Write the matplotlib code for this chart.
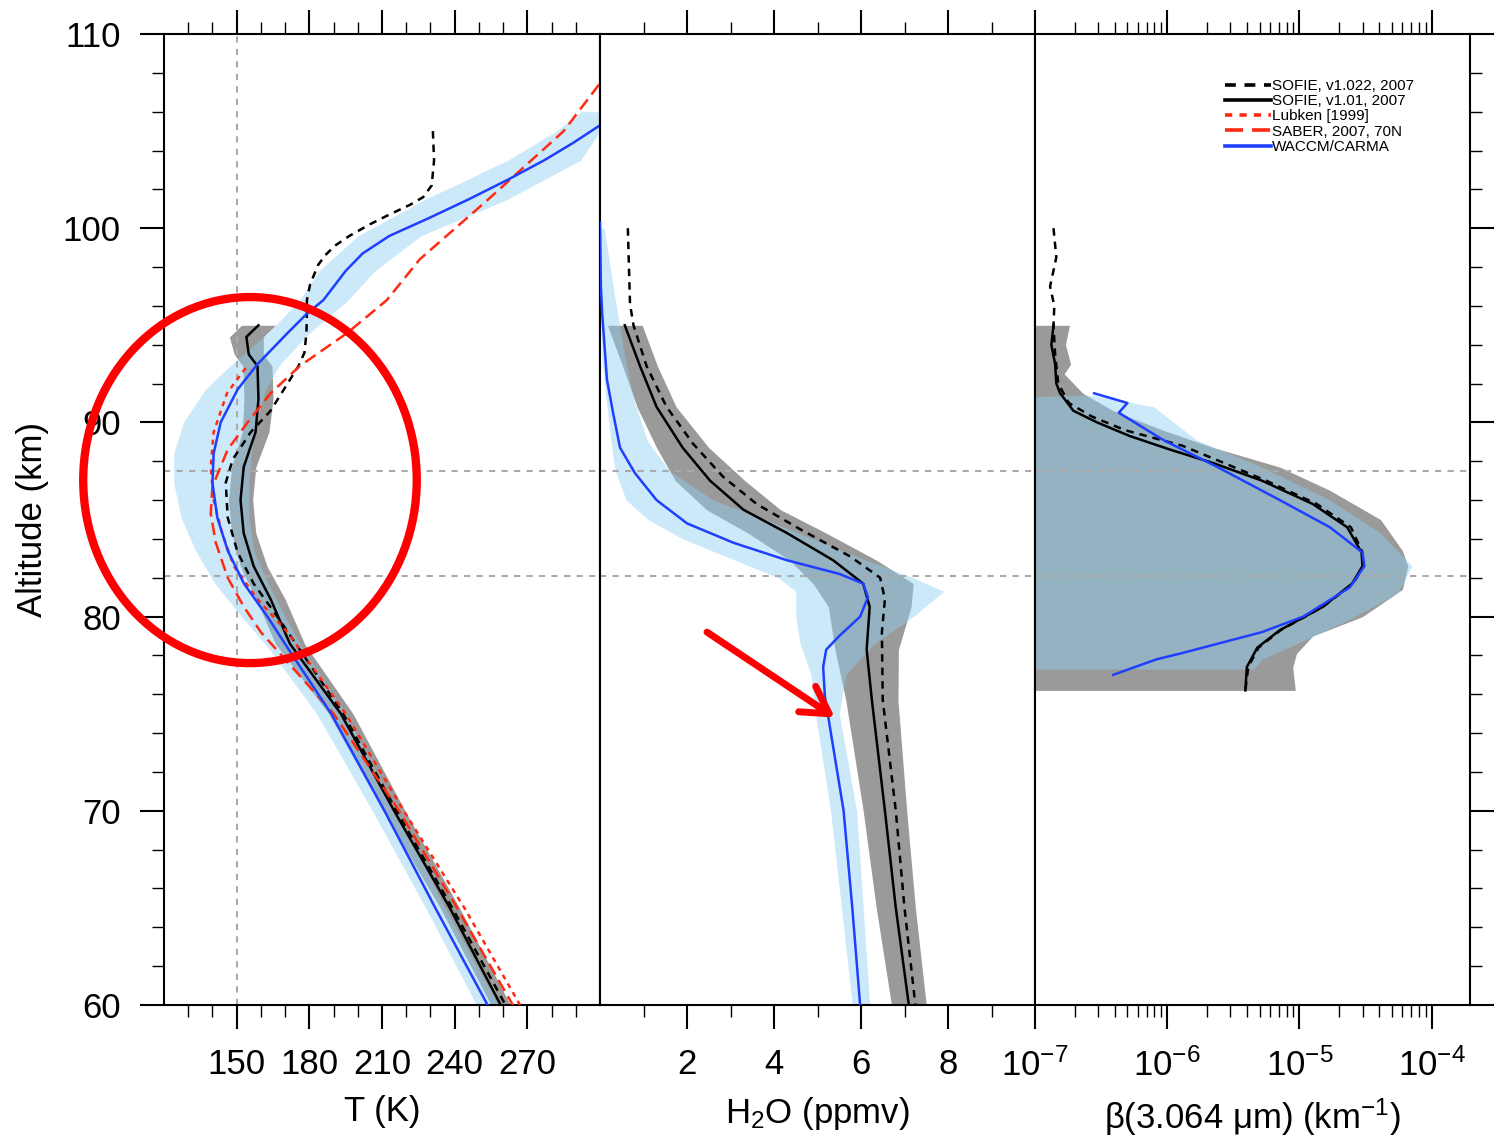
import matplotlib.pyplot as plt
from matplotlib.patches import Ellipse
from matplotlib.ticker import FixedLocator, LogLocator, NullFormatter

plt.rcParams['font.family'] = ['Liberation Sans', 'DejaVu Sans']
plt.rcParams['mathtext.fontset'] = 'custom'
plt.rcParams['mathtext.rm'] = 'Liberation Sans'
plt.rcParams['mathtext.it'] = 'Liberation Sans:italic'

# ---------------- temperature (K) ----------------
t_s101_z = [95, 94.4, 93.5, 92.9, 91.2, 89.5, 87.7, 86, 84.3, 82.6, 80.9, 78.6, 75, 70, 65, 60]
t_s101 = [159, 154, 155, 158.6, 159, 157.8, 152.9, 151.6, 152.9, 157, 164, 172, 193, 215, 238, 259]
t_s101_sd = [7, 7, 6, 6, 6, 5.5, 5, 5, 5, 5.5, 6, 6, 5, 4.5, 4, 4]

t_s1022_z = [105, 103.5, 102.2, 101.6, 101.2, 100.7, 100.2, 99.6, 99.1, 98.6, 98.1, 97.1, 96.3,
             95.6, 94.6, 93.6, 92.9, 92.2, 90.6, 89.5, 88.1, 86.9, 85.1, 83.3, 81.7, 80, 75, 70, 65, 60]
t_s1022 = [231, 231.5, 230.5, 227, 221.5, 213, 205, 196.5, 190.6, 186.5, 183.6, 180.3, 179,
           179, 178.8, 178, 175.5, 172, 164, 155.8, 148.4, 145.5, 146.3, 150.4, 157, 166.8,
           194, 216, 239, 261]

t_waccm_z = [105.3, 104.4, 103.5, 102.5, 101.5, 100.5, 99.6, 98.7, 97.8, 96.3, 95.6, 94.6, 93,
             91.7, 90, 88.4, 86.9, 85.1, 83.4, 81.7, 80, 78.4, 75, 70, 65, 60]
t_waccm = [300, 289, 277, 262, 246, 229, 213, 202, 195, 185.8, 179, 171, 158.6, 150.4,
           143.4, 140.5, 140, 142, 146.3, 153, 162.7, 171, 189, 211, 232, 253.6]

t_wband_z = [106, 105, 103.5, 101.5, 99.6, 97.8, 96.3, 94.6, 93, 91.7, 90, 88.4, 86.9,
             85.1, 83.4, 81.7, 80, 78.4, 75, 70, 65, 60]
t_wband_lo = [292, 282, 262, 228, 200, 184, 176, 163, 148, 137, 128, 124, 124,
              127, 133, 141, 152, 163, 183, 206, 228, 249]
t_wband_hi = [305, 300, 292, 262, 226, 207, 196, 180, 168, 162, 158, 156, 155,
              155, 157, 163, 170, 177, 195, 216, 236, 258]

t_lub_z = [92.8, 91.5, 89.5, 87.7, 86, 84.3, 82.6, 80.9, 79.2, 75, 70, 65, 60]
t_lub = [153.7, 146, 140.5, 139.3, 140.5, 144, 148.8, 158.6, 171, 195, 219, 244, 267]

t_saber_z = [107.4, 105, 101.5, 98.4, 96.3, 94.6, 92.9, 91.5, 90, 88.6, 86.7, 85.3, 83.8,
             82, 80.5, 79.2, 75, 70, 65, 60]
t_saber = [299.6, 285, 254, 225.6, 212, 195.6, 176, 164, 154.5, 146.3, 140, 139.3, 141.4,
           146.3, 153, 160, 190, 217, 241, 264]

# ---------------- water vapour (ppmv) ----------------
h_s101_z = [95, 92.9, 90.8, 88.7, 87, 85.5, 84.3, 82.9, 81.7, 80.5, 78.3, 75.7, 70, 65, 60]
h_s101 = [0.57, 0.92, 1.3, 1.9, 2.53, 3.3, 4.3, 5.36, 6.05, 6.2, 6.13, 6.25, 6.55, 6.8, 7.1]
h_s101_sd = [0.4, 0.4, 0.45, 0.6, 0.8, 0.85, 0.9, 1.0, 1.15, 0.95, 0.73, 0.6, 0.5, 0.45, 0.4]

h_s1022_z = [100, 96.1, 95, 92.9, 90.8, 88.9, 87.2, 85.8, 84.5, 83.1, 82, 80.9, 79.2, 75.7, 70, 65, 60]
h_s1022 = [0.64, 0.69, 0.77, 1.07, 1.53, 2.14, 2.83, 3.6, 4.6, 5.75, 6.44, 6.55, 6.48, 6.5, 6.8, 7.0, 7.25]

h_waccm_z = [100.3, 97, 95.6, 92.2, 90.5, 88.7, 87.4, 86, 84.8, 83.8, 82.9, 82.2, 81.7, 81,
             80, 79, 78.3, 77.4, 75.9, 70, 65, 60]
h_waccm = [0.0, 0.02, 0.05, 0.16, 0.3, 0.46, 0.8, 1.3, 2.0, 3.07, 4.3, 5.5, 6.05, 6.16,
           5.98, 5.5, 5.2, 5.13, 5.17, 5.6, 5.8, 5.98]

h_wband_z = [100, 97, 95, 93, 91, 89, 87.5, 86, 85, 84, 83, 82, 81.3, 80, 78.6, 77, 75, 70, 65, 60]
h_wband_lo = [0.0, 0.0, 0.02, 0.05, 0.15, 0.25, 0.35, 0.6, 1.1, 1.9, 3.0, 4.1, 4.5, 4.5,
              4.6, 4.85, 4.95, 5.3, 5.55, 5.8]
h_wband_hi = [0.1, 0.3, 0.45, 0.6, 0.8, 1.1, 1.6, 2.6, 3.8, 4.9, 6.0, 7.2, 7.9, 7.2,
              6.3, 5.65, 5.5, 5.9, 6.05, 6.2]

# ---------------- backscatter beta (km-1) ----------------
b_s101_z = [95, 94, 93, 92, 91.5, 90.6, 90, 89.3, 88.6, 87.9, 87, 85.8, 84.6, 83.3, 82.6,
            81.7, 80.5, 79.3, 78.4, 77.4, 76.2]
b_s101 = [1.38e-7, 1.33e-7, 1.42e-7, 1.45e-7, 1.55e-7, 1.95e-7, 2.95e-7, 5.2e-7, 1.05e-6,
          2.24e-6, 5.2e-6, 1.26e-5, 2.3e-5, 2.95e-5, 3.0e-5, 2.5e-5, 1.5e-5, 7.1e-6, 4.8e-6,
          4.0e-6, 3.9e-6]
b_s101_hi_z = [95, 94, 93, 92.5, 91.5, 90.6, 89.6, 88.7, 87.7, 86.5, 85, 83.4, 82.6, 81.4,
               80, 79, 78.1, 77.4, 76.2]
b_s101_hi = [1.82e-7, 1.7e-7, 1.86e-7, 1.66e-7, 2.3e-7, 3.9e-7, 9.3e-7, 2.24e-6, 7.1e-6,
             1.7e-5, 4.1e-5, 6.0e-5, 6.6e-5, 6.0e-5, 3.0e-5, 1.26e-5, 9.5e-6, 8.9e-6, 9.3e-6]

b_s1022_z = [100, 98.5, 97, 96, 95, 93.5, 92, 91, 90.3, 89.6, 88.8, 88, 87, 85.8, 84.6,
             83.3, 82.6, 81.7, 80.5, 79.3, 78.4, 77.4, 76.2]
b_s1022 = [1.38e-7, 1.45e-7, 1.3e-7, 1.4e-7, 1.38e-7, 1.42e-7, 1.5e-7, 1.8e-7, 2.7e-7,
           4.8e-7, 1.3e-6, 2.5e-6, 5.6e-6, 1.35e-5, 2.45e-5, 3.0e-5, 3.05e-5, 2.55e-5,
           1.5e-5, 7.2e-6, 4.9e-6, 4.1e-6, 3.9e-6]

b_waccm_z = [91.5, 91.0, 90.5, 89.1, 87.7, 86, 84.6, 83.3, 82.6, 81.5, 80, 79.2, 78.1, 77.8, 77]
b_waccm = [2.8e-7, 5.0e-7, 4.3e-7, 9.3e-7, 2.4e-6, 7.1e-6, 1.7e-5, 3.0e-5, 3.1e-5, 2.4e-5,
           1.07e-5, 5.2e-6, 1.26e-6, 8.3e-7, 3.9e-7]
b_wband_z = [91.4, 90.8, 89.1, 87.7, 86, 84.3, 82.6, 81.2, 79.8, 78.6, 77.8, 77.3]
b_wband_lo = [2.1e-7, 1e-9, 1e-9, 1e-9, 1e-9, 1e-9, 1e-9, 1e-9, 1e-9, 1e-9, 1e-9, 1e-9]
b_wband_hi = [2.8e-7, 7.9e-7, 1.66e-6, 5.2e-6, 1.7e-5, 4.1e-5, 7.1e-5, 5.5e-5, 2.3e-5,
              9.5e-6, 5.2e-6, 4.5e-6]

ref_alt = [87.5, 82.1]   # grey dashed altitude markers
ref_temp = 150

BLACK = 'black'
RED = '#ff2a12'
BLUE = '#1f3fff'
GREY = '#9a9a9a'
LBLUE = '#8fd0f5'
LW = 1.8

W, H = 1499, 1138
fig = plt.figure(figsize=(W / 100, H / 100), dpi=100)
bot = 1 - 1005 / H
hgt = 971 / H
ax1 = fig.add_axes([164 / W, bot, 436 / W, hgt])
ax2 = fig.add_axes([600 / W, bot, 435 / W, hgt], sharey=ax1)
ax3 = fig.add_axes([1035 / W, bot, 435 / W, hgt], sharey=ax1)

# temperature panel
ax1.fill_betweenx(t_s101_z, [a - b for a, b in zip(t_s101, t_s101_sd)],
                  [a + b for a, b in zip(t_s101, t_s101_sd)], color=GREY, lw=0, zorder=1)
ax1.fill_betweenx(t_wband_z, t_wband_lo, t_wband_hi, color=LBLUE, alpha=0.45, lw=0, zorder=1.5)
l_s1022, = ax1.plot(t_s1022, t_s1022_z, color=BLACK, lw=LW, dashes=(3, 2.4), zorder=3)
l_s101, = ax1.plot(t_s101, t_s101_z, color=BLACK, lw=LW, zorder=3)
l_lub, = ax1.plot(t_lub, t_lub_z, color=RED, lw=LW, dashes=(2, 2), zorder=3)
l_saber, = ax1.plot(t_saber, t_saber_z, color=RED, lw=LW, dashes=(5, 2.5), zorder=3)
l_waccm, = ax1.plot(t_waccm, t_waccm_z, color=BLUE, lw=LW, zorder=3)
ax1.axvline(ref_temp, color='#aaaaaa', lw=1.5, dashes=(3, 3), zorder=2)

# water vapour panel
ax2.fill_betweenx(h_s101_z, [a - b for a, b in zip(h_s101, h_s101_sd)],
                  [a + b for a, b in zip(h_s101, h_s101_sd)], color=GREY, lw=0, zorder=1)
ax2.fill_betweenx(h_wband_z, h_wband_lo, h_wband_hi, color=LBLUE, alpha=0.45, lw=0, zorder=1.5)
ax2.plot(h_s1022, h_s1022_z, color=BLACK, lw=LW, dashes=(3, 2.4), zorder=3)
ax2.plot(h_s101, h_s101_z, color=BLACK, lw=LW, zorder=3)
ax2.plot(h_waccm, h_waccm_z, color=BLUE, lw=LW, zorder=3)

# backscatter panel
ax3.set_xscale('log')
ax3.fill_betweenx(b_s101_hi_z, 1e-9, b_s101_hi, color=GREY, lw=0, zorder=1)
ax3.fill_betweenx(b_wband_z, b_wband_lo, b_wband_hi, color=LBLUE, alpha=0.45, lw=0, zorder=1.5)
ax3.plot(b_s1022, b_s1022_z, color=BLACK, lw=LW, dashes=(3, 2.4), zorder=3)
ax3.plot(b_s101, b_s101_z, color=BLACK, lw=LW, zorder=3)
ax3.plot(b_waccm, b_waccm_z, color=BLUE, lw=LW, zorder=3)

for ax in (ax1, ax2, ax3):
    for z in ref_alt:
        ax.axhline(z, color='#aaaaaa', lw=1.5, dashes=(3, 3), zorder=2)
    for s in ax.spines.values():
        s.set_linewidth(1.5)
    ax.tick_params(which='both', direction='out', top=True, bottom=True,
                   labelsize=25, pad=14)
    ax.tick_params(which='major', length=17, width=1.5)
    ax.tick_params(which='minor', length=8.5, width=1.0)

ax1.set_ylim(60, 110)
ax1.yaxis.set_major_locator(FixedLocator([60, 70, 80, 90, 100, 110]))
ax1.yaxis.set_minor_locator(FixedLocator(range(60, 111, 2)))
ax1.tick_params(axis='y', which='both', left=True, right=False, labelleft=True)
ax2.tick_params(axis='y', which='both', left=False, right=False, labelleft=False)
ax3.tick_params(axis='y', which='both', left=False, right=True, labelleft=False, labelright=False)

ax1.set_xlim(120, 300)
ax1.xaxis.set_major_locator(FixedLocator([150, 180, 210, 240, 270]))
ax1.xaxis.set_minor_locator(FixedLocator([130, 140, 160, 170, 190, 200, 220, 230, 250, 260, 280, 290]))
ax2.set_xlim(0, 10)
ax2.xaxis.set_major_locator(FixedLocator([2, 4, 6, 8]))
ax2.xaxis.set_minor_locator(FixedLocator([1, 3, 5, 7, 9]))
ax3.set_xlim(1e-7, 1.95e-4)
ax3.xaxis.set_major_locator(FixedLocator([1e-7, 1e-6, 1e-5, 1e-4]))
ax3.xaxis.set_minor_locator(LogLocator(base=10, subs=range(2, 10)))
ax3.xaxis.set_minor_formatter(NullFormatter())

ax1.set_ylabel('Altitude (km)', fontsize=25, labelpad=10)
ax1.set_xlabel('T (K)', fontsize=25, labelpad=10)
ax2.set_xlabel('H$_2$O (ppmv)', fontsize=25, labelpad=10)
ax3.set_xlabel('β(3.064 μm) (km$^{-1}$)', fontsize=25, labelpad=10)

leg = ax3.legend([l_s1022, l_s101, l_lub, l_saber, l_waccm],
                 ['SOFIE, v1.022, 2007', 'SOFIE, v1.01, 2007', 'Lubken [1999]',
                  'SABER, 2007, 70N', 'WACCM/CARMA'],
                 loc='upper left', bbox_to_anchor=(1225 / W, 1 - 79 / H),
                 bbox_transform=fig.transFigure, frameon=False, fontsize=11,
                 handlelength=3.0, handletextpad=0.05, labelspacing=0.08,
                 borderpad=0, borderaxespad=0)
for ln in leg.get_lines():
    ln.set_linewidth(2.6)

# red highlight annotations
ax1.add_patch(Ellipse((155.5, 87.03), 137.7, 18.85, fill=False, edgecolor='red',
                      lw=6, clip_on=False, zorder=10))
ax2.annotate('', xy=(5.4, 74.8), xytext=(2.46, 79.2),
             arrowprops=dict(arrowstyle='->,head_length=0.38,head_width=0.22',
                             color='red', lw=5, mutation_scale=50,
                             shrinkA=0, shrinkB=0), zorder=10)

fig.savefig('out.png', dpi=100)
